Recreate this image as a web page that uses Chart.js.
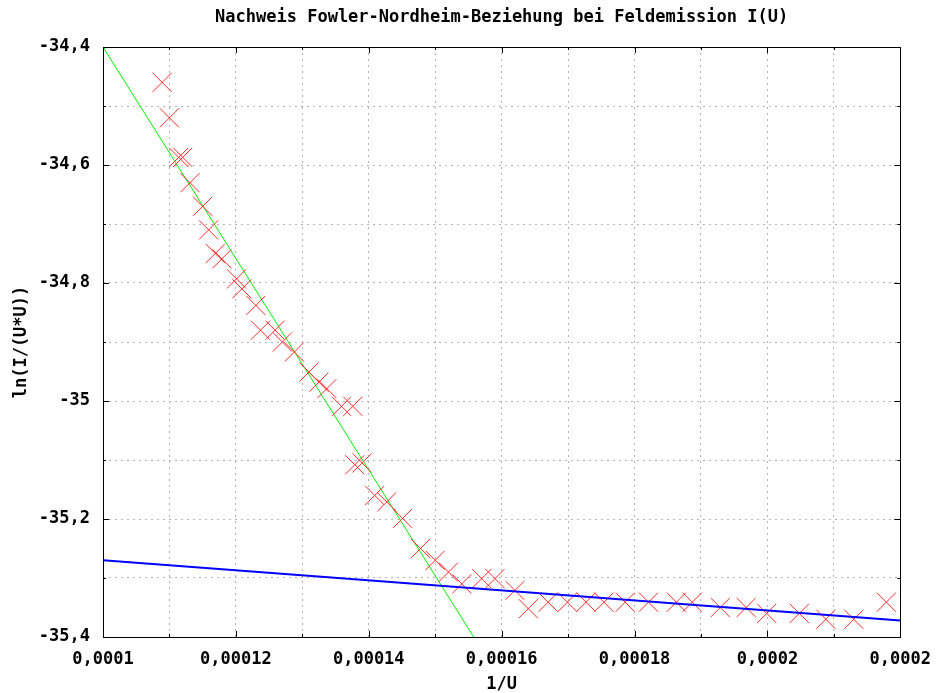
<!DOCTYPE html>
<html>
<head>
<meta charset="utf-8">
<title>Fowler-Nordheim</title>
<script src="https://cdn.jsdelivr.net/npm/chart.js@4.4.0/dist/chart.umd.min.js"></script>
<style>
	body { margin: 0; background: #fff; }
</style>
</head>
<body>
<canvas id="fnChart" width="943" height="693"></canvas>
<script>

// messwerte: x = 1/U, y = ln(I/(U*U))
var pointsX = [0.0001089, 0.00011, 0.0001114, 0.000112, 0.0001131, 0.000115, 0.0001159, 0.0001169, 0.0001179,
	0.0001201, 0.0001209, 0.000123, 0.0001237, 0.0001259, 0.000127, 0.0001288, 0.000131, 0.0001325, 0.0001337,
	0.0001359, 0.0001376, 0.0001379, 0.000139, 0.0001409, 0.0001427, 0.0001451, 0.0001478, 0.00015, 0.000152,
	0.000154, 0.000157, 0.000159, 0.000162, 0.000164, 0.000167, 0.0001699, 0.0001727, 0.0001754, 0.0001786,
	0.0001821, 0.0001863, 0.0001887, 0.0001929, 0.0001968, 0.0001999, 0.0002048, 0.0002088, 0.000213, 0.0002179];
var pointsY = [-34.46, -34.52, -34.587, -34.587, -34.63, -34.67, -34.71, -34.75, -34.759,
	-34.793, -34.81, -34.838, -34.88, -34.88, -34.9, -34.917, -34.951, -34.968, -34.979,
	-35.009, -35.009, -35.108, -35.105, -35.16, -35.171, -35.199, -35.25, -35.27, -35.29,
	-35.31, -35.301, -35.301, -35.321, -35.352, -35.341, -35.341, -35.341, -35.341, -35.341,
	-35.341, -35.341, -35.341, -35.35, -35.35, -35.36, -35.36, -35.37, -35.37, -35.341];

// ausgleichsgeraden (endpunkte)
var steepFitX = [0.0001, 0.0001558];
var steepFitY = [-34.4, -35.4];
var flatFitX = [0.0001, 0.00022];
var flatFitY = [-35.27, -35.372];

var xTickLabels = ['0,0001', '0,00012', '0,00014', '0,00016', '0,00018', '0,0002', '0,0002'];
var yTickLabels = ['-35,4', '-35,2', '-35', '-34,8', '-34,6', '-34,4'];

var xMin = 0.0001, xMax = 0.00022, xStep = 0.00001;
var yMin = -35.4, yMax = -34.4, yStep = 0.1;

function toXY(xs, ys){
	var out = [];
	for(var i = 0; i < xs.length; i++){
		out.push({x: xs[i], y: ys[i]});
	}
	return out;
}

var FONT = 'DejaVu Sans Mono';

// gnuplot-artige ticks nach innen + rahmen
var innerTicks = {
	id: 'innerTicks',
	afterDatasetsDraw: function(chart){
		var ctx = chart.ctx;
		var a = chart.chartArea;
		var xs = chart.scales.x, ys = chart.scales.y;
		ctx.save();
		ctx.strokeStyle = '#000';
		ctx.lineWidth = 1;
		ctx.beginPath();
		xs.ticks.forEach(function(t){
			var px = Math.round(xs.getPixelForValue(t.value)) + 0.5;
			var len = t.label ? 6 : 3;
			ctx.moveTo(px, a.bottom); ctx.lineTo(px, a.bottom - len);
			ctx.moveTo(px, a.top); ctx.lineTo(px, a.top + len);
		});
		ys.ticks.forEach(function(t){
			var py = Math.round(ys.getPixelForValue(t.value)) + 0.5;
			var len = t.label ? 6 : 3;
			ctx.moveTo(a.left, py); ctx.lineTo(a.left + len, py);
			ctx.moveTo(a.right, py); ctx.lineTo(a.right - len, py);
		});
		ctx.stroke();
		ctx.strokeRect(Math.round(a.left) + 0.5, Math.round(a.top) + 0.5,
			Math.round(a.right - a.left), Math.round(a.bottom - a.top));
		ctx.restore();
	}
};

var ctx = document.getElementById('fnChart').getContext('2d');

new Chart(ctx, {
	type: 'scatter',
	data: {
		datasets: [
			{
				label: 'fit2',
				data: toXY(flatFitX, flatFitY),
				showLine: true,
				borderColor: '#0000ff',
				borderWidth: 2,
				pointRadius: 0
			},
			{
				label: 'messwerte',
				data: toXY(pointsX, pointsY),
				pointStyle: 'crossRot',
				pointRadius: 13.5,
				pointHoverRadius: 13.5,
				borderColor: '#ff2a2a',
				pointBorderWidth: 1,
				borderWidth: 1
			},
			{
				label: 'fit1',
				data: toXY(steepFitX, steepFitY),
				showLine: true,
				borderColor: '#00f000',
				borderWidth: 1,
				pointRadius: 0
			}
		]
	},
	options: {
		responsive: false,
		animation: false,
		layout: { padding: { left: 0, right: 30, top: 0, bottom: 0 } },
		plugins: {
			legend: { display: false },
			tooltip: { enabled: false },
			title: {
				display: true,
				text: 'Nachweis Fowler-Nordheim-Beziehung bei Feldemission I(U)',
				fullSize: false,
				color: '#000',
				font: { family: FONT, size: 17, weight: 'bold', lineHeight: 1 },
				padding: { top: 9, bottom: 21 }
			}
		},
		scales: {
			x: {
				type: 'linear',
				min: xMin,
				max: xMax,
				afterFit: function(scale){ scale.height = 56; },
				grid: { color: '#b4b4b4', lineWidth: 1, drawTicks: false },
				border: { display: false, dash: [2, 4] },
				ticks: {
					stepSize: xStep,
					autoSkip: false,
					maxRotation: 0,
					padding: 12,
					color: '#000',
					font: { family: FONT, size: 17, weight: 'bold' },
					callback: function(value){
						var k = Math.round((value - xMin) / xStep);
						return k % 2 === 0 ? xTickLabels[k / 2] : '';
					}
				},
				title: {
					display: true,
					text: '1/U',
					color: '#000',
					font: { family: FONT, size: 17, weight: 'bold', lineHeight: 1 },
					padding: { top: 0, bottom: 0 }
				}
			},
			y: {
				type: 'linear',
				min: yMin,
				max: yMax,
				afterFit: function(scale){ scale.width = 103; },
				grid: { color: '#b4b4b4', lineWidth: 1, drawTicks: false },
				border: { display: false, dash: [2, 4] },
				ticks: {
					stepSize: yStep,
					autoSkip: false,
					padding: 13,
					color: '#000',
					font: { family: FONT, size: 17, weight: 'bold' },
					callback: function(value){
						var k = Math.round((value - yMin) / yStep);
						return k % 2 === 0 ? yTickLabels[k / 2] : '';
					}
				},
				title: {
					display: true,
					text: 'ln(I/(U*U))',
					color: '#000',
					font: { family: FONT, size: 17, weight: 'bold', lineHeight: 1 },
					padding: { top: 13, bottom: 0 }
				}
			}
		}
	},
	plugins: [innerTicks]
});

</script>
</body>
</html>
